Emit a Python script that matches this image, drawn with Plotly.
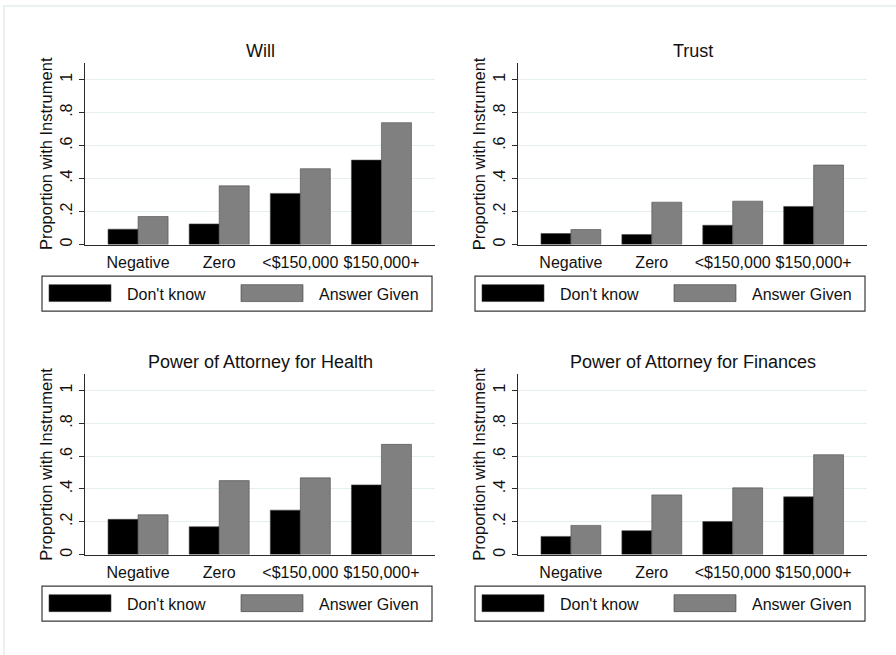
import plotly.graph_objects as go

# Net worth groups on the x axis
categories = ["Negative", "Zero", "<$150,000", "$150,000+"]
series_names = ["Don't know", "Answer Given"]
panel_titles = ["Will", "Trust", "Power of Attorney for Health",
                "Power of Attorney for Finances"]

# Proportion with each instrument, by whether the respondent knew their net worth
will_dont_know = [0.093, 0.125, 0.310, 0.512]
will_answer = [0.170, 0.356, 0.460, 0.739]
trust_dont_know = [0.067, 0.061, 0.117, 0.231]
trust_answer = [0.091, 0.257, 0.263, 0.482]
health_dont_know = [0.215, 0.170, 0.271, 0.425]
health_answer = [0.243, 0.451, 0.468, 0.672]
finance_dont_know = [0.111, 0.146, 0.202, 0.352]
finance_answer = [0.178, 0.364, 0.407, 0.609]

y_tick_values = [0, 0.2, 0.4, 0.6, 0.8, 1.0]
y_tick_labels = ["0", ".2", ".4", ".6", ".8", "1"]

W, H = 896, 655
FONT = "Liberation Sans, Arial, sans-serif"
BLACK = "#000000"
GRAY = "#808080"
AXIS = "#2b2b2b"
GRID = "#e6eff0"


def px_x(v):
    return v / W


def px_y(v):
    return 1 - v / H


panels = [
    (will_dont_know, will_answer),
    (trust_dont_know, trust_answer),
    (health_dont_know, health_answer),
    (finance_dont_know, finance_answer),
]

# plot-area pixel boxes: (left, right, top, bottom)
x_boxes = [(85, 435), (518, 867)]
y_boxes = [(63.3, 245.3), (375.3, 556.3)]

fig = go.Figure()
layout = dict(
    width=W, height=H, margin=dict(l=0, r=0, t=0, b=0),
    paper_bgcolor="white", plot_bgcolor="white",
    barmode="group", bargap=0.26, bargroupgap=0,
    showlegend=False,
    font=dict(family=FONT, size=16, color="#111111"),
)
annotations = []
shapes = []

for i, (dk, ag) in enumerate(panels):
    row, col = divmod(i, 2)
    n = "" if i == 0 else str(i + 1)
    xl, xr = x_boxes[col]
    yt, yb = y_boxes[row]

    for vals, name, color in ((dk, series_names[0], BLACK), (ag, series_names[1], GRAY)):
        fig.add_trace(go.Bar(
            x=categories, y=vals, name=name,
            marker=dict(color=color, line=dict(color="#4a4a4a", width=0.6)),
            xaxis="x" + n, yaxis="y" + n, showlegend=False,
        ))

    layout["xaxis" + n] = dict(
        domain=[px_x(xl), px_x(xr)], anchor="y" + n,
        type="category", range=[-0.654, 3.66],
        showline=True, linecolor=AXIS, linewidth=1.2,
        ticks="", showgrid=False, zeroline=False,
        tickfont=dict(size=16), ticklabelstandoff=3,
    )
    layout["yaxis" + n] = dict(
        domain=[px_y(yb), px_y(yt)], anchor="x" + n,
        range=[0, 1.1],
        tickvals=y_tick_values, ticktext=y_tick_labels, tickangle=-90,
        ticks="outside", ticklen=5, tickcolor=AXIS, tickwidth=1,
        showline=True, linecolor=AXIS, linewidth=1.2,
        showgrid=True, gridcolor=GRID, gridwidth=1, zeroline=False,
        tickfont=dict(size=16), ticklabelstandoff=1,
        title=dict(text="Proportion with Instrument", font=dict(size=16.5), standoff=0),
    )

    # panel title
    annotations.append(dict(
        text=panel_titles[i], x=px_x((xl + xr) / 2), y=px_y(yt - 12),
        xref="paper", yref="paper", showarrow=False,
        xanchor="center", yanchor="middle", font=dict(size=18),
    ))

    # legend box beneath each panel
    bx = xl - 43
    by = yb + 31.7
    shapes.append(dict(type="rect", xref="paper", yref="paper",
                       x0=px_x(bx), x1=px_x(bx + 390), y0=px_y(by), y1=px_y(by + 35),
                       line=dict(color="#3a3a3a", width=1.2), fillcolor="white"))
    for k, (sw, color, label) in enumerate(((7, BLACK, series_names[0]), (199, GRAY, series_names[1]))):
        shapes.append(dict(type="rect", xref="paper", yref="paper",
                           x0=px_x(bx + sw), x1=px_x(bx + sw + 62),
                           y0=px_y(by + 8.5), y1=px_y(by + 25.5),
                           line=dict(color="#3a3a3a", width=0.6), fillcolor=color))
        annotations.append(dict(
            text=label, x=px_x(bx + sw + 76), y=px_y(by + 18),
            xref="paper", yref="paper", showarrow=False,
            xanchor="left", yanchor="middle", font=dict(size=16),
        ))

# faint outer frame of the graph region
shapes.append(dict(type="rect", xref="paper", yref="paper",
                   x0=px_x(4), x1=px_x(899), y0=px_y(6), y1=px_y(660),
                   line=dict(color="#e6eeee", width=1.5), fillcolor="rgba(0,0,0,0)",
                   layer="below"))

layout["annotations"] = annotations
layout["shapes"] = shapes
fig.update_layout(**layout)

fig.write_html("out.html")
